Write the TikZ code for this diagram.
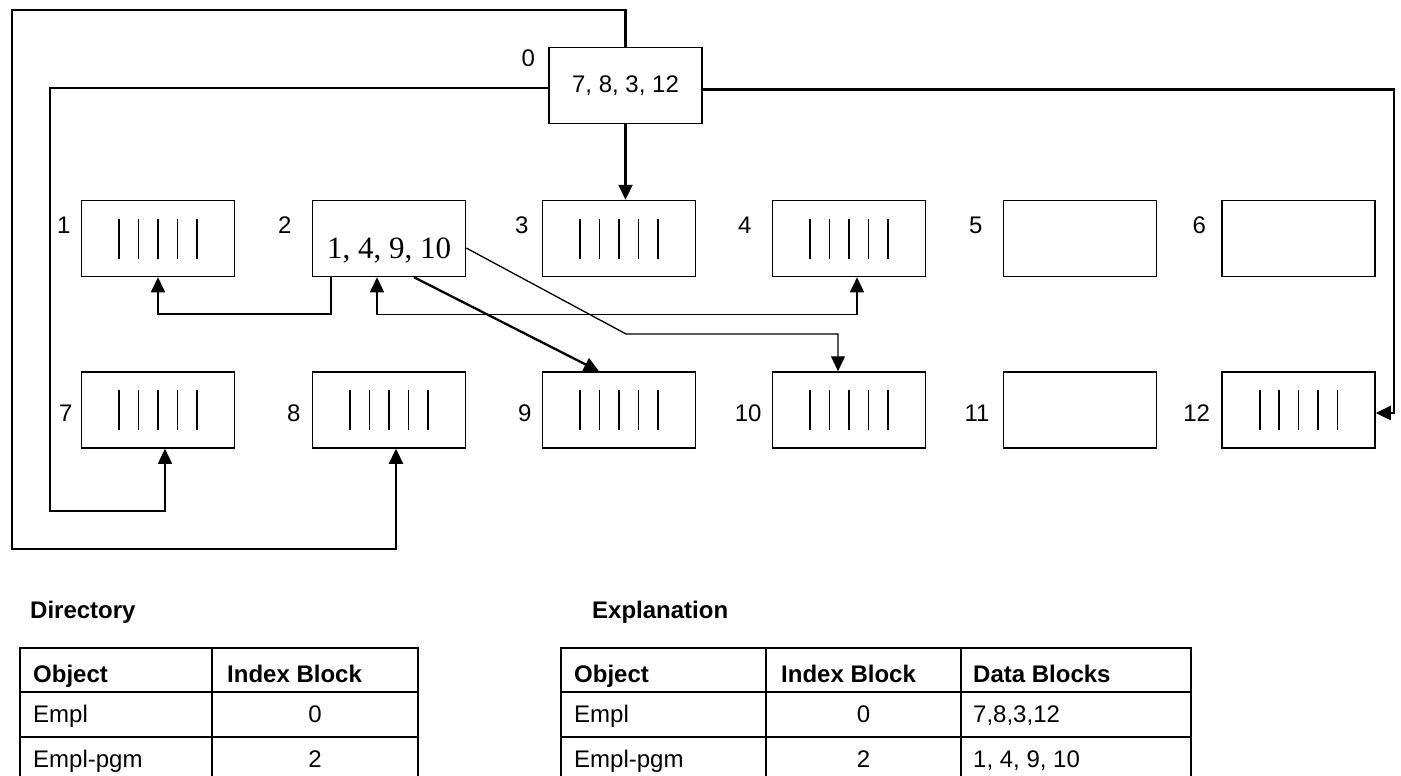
\documentclass[tikz,border=0pt]{standalone}
\usepackage{fontspec}
\setmainfont{Liberation Sans}
\newfontfamily\serifDigits{Liberation Serif}
\usetikzlibrary{arrows.meta, positioning}
\tikzset{
    dataBlock/.style={rectangle, draw, line width=1.5pt, minimum width=153pt, minimum height=76pt, inner sep=0pt},
    blockNum/.style={inner sep=0pt},
    idxText/.style={font=\serifDigits\fontsize{31}{36}\selectfont, text height=39.6pt, text depth=0pt},
    linkThin/.style={->, >={Triangle[length=15pt, width=14pt]}, line width=1.3pt},
    linkMid/.style={->, >={Triangle[length=15pt, width=14pt]}, line width=1.7pt},
    linkBoth/.style={<->, >={Triangle[length=15pt, width=14pt]}, line width=1.5pt},
    linkThick/.style={->, >={Triangle[length=15pt, width=14pt]}, line width=2.3pt},
    tblLine/.style={line width=1.5pt},
    tblTitle/.style={font=\fontsize{24}{28}\selectfont\bfseries, anchor=base west, inner sep=0pt},
    tblHead/.style={font=\fontsize{24}{28}\selectfont\bfseries, anchor=base west, inner sep=0pt},
    tblCell/.style={anchor=base west, inner sep=0pt},
    tblNum/.style={anchor=base, inner sep=0pt},
}
\newcommand{\oneBar}{\rule{1.6pt}{40pt}}
\newcommand{\dataBars}{\oneBar\hspace{17.8pt}\oneBar\hspace{17.8pt}\oneBar\hspace{17.8pt}\oneBar\hspace{17.8pt}\oneBar}
\newcommand{\putBlock}[5][]{
    \node[dataBlock, label={[blockNum, #1]left:#4}] (#2) at (#3) {#5};
}

\begin{document}
\begin{tikzpicture}[x=1pt, y=-1pt, font=\fontsize{24}{28}\selectfont]
        \useasboundingbox (0,0) rectangle (1401,776);

        % index block of Empl
        \node[dataBlock, label={[blockNum, label distance=13pt, yshift=27.5pt]left:0}] (b0) at (625.5,85.5) {7, 8, 3, 12};

        % first row
        \putBlock[label distance=10pt, yshift=13pt]{b1}{158,238.5}{1}{\dataBars}
        \node[dataBlock, idxText, label={[blockNum, font=\fontsize{24}{28}\selectfont\rmfamily, label distance=20pt, yshift=13pt]left:2}] (b2) at (389,238.5) {1, 4, 9, 10};
        \putBlock[label distance=13pt, yshift=13pt]{b3}{619,238.5}{3}{\dataBars}
        \putBlock[label distance=20pt, yshift=13pt]{b4}{849,238.5}{4}{\dataBars}
        \putBlock[label distance=20pt, yshift=13pt]{b5}{1080,238.5}{5}{}
        \putBlock[label distance=15pt, yshift=13pt]{b6}{1298.5,238.5}{6}{}

        % second row
        \putBlock[label distance=8pt, yshift=-3pt]{b7}{158,410}{7}{\dataBars}
        \putBlock[label distance=11pt, yshift=-3pt]{b8}{389,410}{8}{\dataBars}
        \putBlock[label distance=10pt, yshift=-3pt]{b9}{619,410}{9}{\dataBars}
        \putBlock[label distance=10pt, yshift=-3pt]{b10}{849,410}{10}{\dataBars}
        \putBlock[label distance=13pt, yshift=-3pt]{b11}{1080,410}{11}{}
        \putBlock[label distance=11pt, yshift=-3pt]{b12}{1298.5,410}{12}{\dataBars}

        % pointers of block 0
        \draw[linkThick] (b0.north) |- (12,10) -- (12,549) -| ([xshift=7pt]b8.south);
        \draw[linkThin] ([yshift=-2.5pt]b0.west) -| (50,511) -| ([xshift=7pt]b7.south);
        \draw[linkThick] (b0.south) -- (b0.south |- b3.north);
        \draw[linkThick] ([yshift=-4pt]b0.east) -| ([xshift=18pt, yshift=-3pt]b12.east) -- ([yshift=-3pt]b12.east);

        % pointers of block 2
        \draw[linkMid] ([xshift=-58pt]b2.south) -- ++(0,37) -| (b1.south);
        \draw[linkBoth] ([xshift=-12pt]b2.south) -- ++(0,37) -| ([xshift=8pt]b4.south);
        \draw[linkThick] ([xshift=25pt]b2.south) -- ([xshift=-20pt]b9.north);
        \draw[linkThin] ([yshift=-9.5pt]b2.east) -- (626,334) -| ([xshift=-11pt]b10.north);

        % directory
        \node[tblTitle] (dirTitle) at (30,618) {Directory};
        \draw[tblLine] (20,776) |- (418,648) -- (418,776);
        \draw[tblLine] (212,648) -- (212,776);
        \foreach \yy in {692,737}
            \draw[tblLine] (20,\yy) -- (418,\yy);
        \node[tblHead] (dirObj) at (33,682) {Object};
        \node[tblHead] (dirIdx) at (227,682) {Index Block};
        \node[tblCell] (dirEmpl) at (33,722) {Empl};
        \node[tblNum] (dirEmplIdx) at (315,722) {0};
        \node[tblCell] (dirPgm) at (33,767) {Empl-pgm};
        \node[tblNum] (dirPgmIdx) at (315,767) {2};

        % explanation
        \node[tblTitle] (expTitle) at (592,618) {Explanation};
        \draw[tblLine] (561,776) |- (1191,648) -- (1191,776);
        \foreach \xx in {766,961}
            \draw[tblLine] (\xx,648) -- (\xx,776);
        \foreach \yy in {692,737}
            \draw[tblLine] (561,\yy) -- (1191,\yy);
        \node[tblHead] (expObj) at (574,682) {Object};
        \node[tblHead] (expIdx) at (781,682) {Index Block};
        \node[tblHead] (expData) at (973,682) {Data Blocks};
        \node[tblCell] (expEmpl) at (574,722) {Empl};
        \node[tblNum] (expEmplIdx) at (863.5,722) {0};
        \node[tblCell] (expEmplData) at (973,722) {7,8,3,12};
        \node[tblCell] (expPgm) at (574,767) {Empl-pgm};
        \node[tblNum] (expPgmIdx) at (863.5,767) {2};
        \node[tblCell] (expPgmData) at (973,767) {1, 4, 9, 10};

    \end{tikzpicture}
\end{document}
